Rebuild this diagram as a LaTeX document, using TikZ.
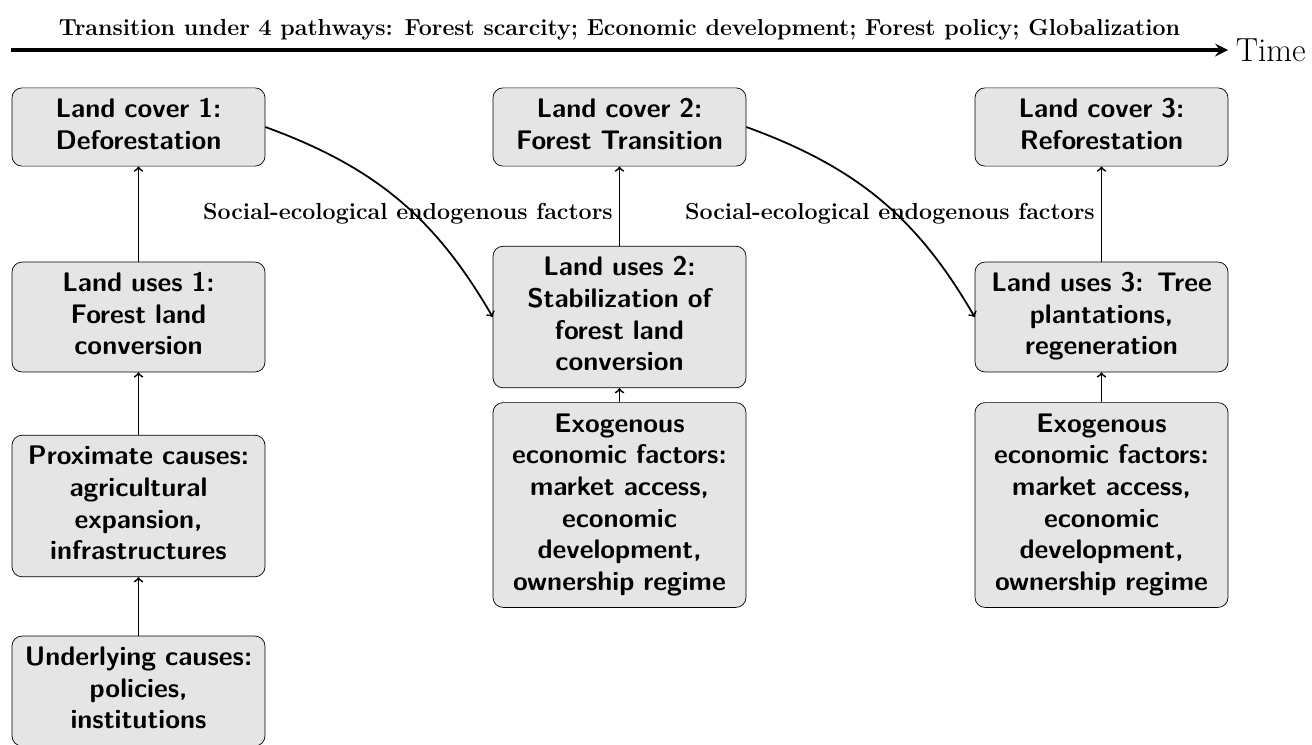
\documentclass[tikz,border=0pt]{standalone}
\tikzset{
    box/.style={draw, rounded corners=0.2cm, fill=gray!20, align=center, text width=4.66cm, inner xsep=0.2cm, inner ysep=0.15cm, font=\sffamily\bfseries\fontsize{15.3}{18}\selectfont, execute at begin node=\strut, execute at end node=\strut},
    lbl/.style={font=\bfseries\fontsize{13.2}{16}\selectfont}
}
\begin{document}
\begin{tikzpicture}
        \useasboundingbox (0,0) rectangle (26.24,-14.88);
        \draw[-stealth, line width=2.2pt] (0.22,-1) -- (24.56,-1) node[midway, above=1pt, lbl] {Transition under 4 pathways: Forest scarcity; Economic development; Forest policy; Globalization} node[right, font=\fontsize{19}{23}\selectfont] (time) {Time};
        % first stage
        \node[box] (cover1) at (2.77,-2.54) {Land cover 1:\\ Deforestation};
        \node[box] (uses1) at (2.77,-6.34) {Land uses 1:\\ Forest land\\ conversion};
        \node[box] (proximate) at (2.77,-10.12) {Proximate causes:\\ agricultural\\ expansion,\\ infrastructures};
        \node[box] (underlying) at (2.77,-13.82) {Underlying causes:\\ policies,\\ institutions};
        % second stage
        \node[box] (cover2) at (12.39,-2.54) {Land cover 2:\\ Forest Transition};
        \node[box] (uses2) at (12.39,-6.34) {Land uses 2:\\ Stabilization of\\ forest land\\ conversion};
        \node[box] (exogenous2) at (12.39,-10.1) {Exogenous\\ economic factors:\\ market access,\\ economic\\ development,\\ ownership regime};
        % third stage
        \node[box] (cover3) at (22.03,-2.54) {Land cover 3:\\ Reforestation};
        \node[box] (uses3) at (22.03,-6.34) {Land uses 3: Tree\\ plantations,\\ regeneration};
        \node[box] (exogenous3) at (22.03,-10.1) {Exogenous\\ economic factors:\\ market access,\\ economic\\ development,\\ ownership regime};
        \draw[->, line width=1pt] (uses1) -- (cover1);
        \draw[->, line width=1pt] (proximate) -- (uses1);
        \draw[->, line width=1pt] (underlying) -- (proximate);
        \draw[->, line width=1pt] (uses2) -- node[pos=0.41, left, lbl] {Social-ecological endogenous factors} (cover2);
        \draw[->, line width=1pt] (exogenous2) -- (uses2);
        \draw[->, line width=1pt] (uses3) -- node[midway, left, lbl] {Social-ecological endogenous factors} (cover3);
        \draw[->, line width=1pt] (exogenous3) -- (uses3);
        \draw[->, line width=1pt] (cover1.east) to[out=-20, in=120] (uses2.west);
        \draw[->, line width=1pt] (cover2.east) to[out=-20, in=120] (uses3.west);
    \end{tikzpicture}
\end{document}
